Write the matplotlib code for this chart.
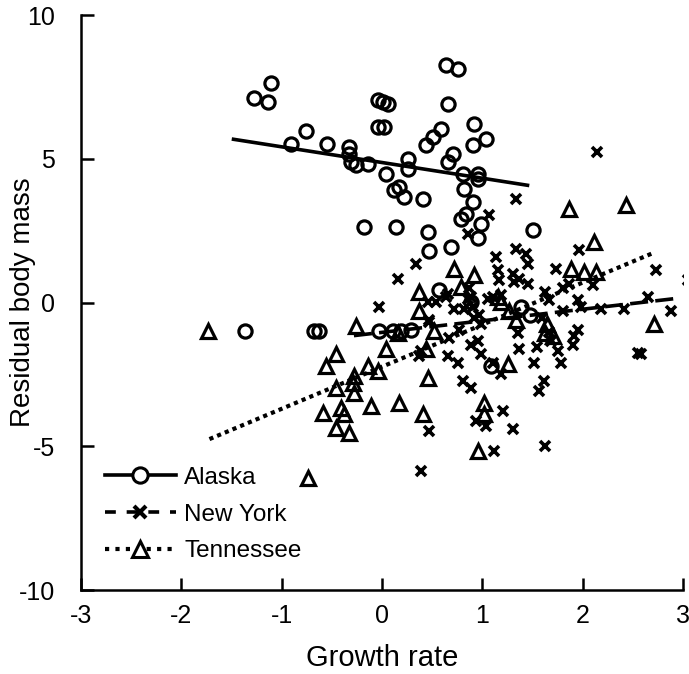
import matplotlib
matplotlib.use("Agg")
import matplotlib.pyplot as plt
from matplotlib.lines import Line2D

plt.rcParams['font.family'] = ['Liberation Sans', 'DejaVu Sans']
plt.rcParams['axes.unicode_minus'] = False

# Alaska (circles)
ak_x = [-1.28, -1.14, -1.11, -0.76, -0.91, -0.55, -0.33, -0.33, -0.31, -0.26, -0.14, -0.18,
        -0.04, 0.01, 0.06, -0.04, 0.02, 0.04, 0.26, 0.26, 0.12, 0.17, 0.22, 0.41,
        0.44, 0.51, 0.59, 0.66, 0.71, 0.92, 0.91, 1.04, 0.66, 0.64, 0.76, 0.81,
        0.96, 0.96, 0.82, 0.91, 0.84, 0.79, 0.99, 0.14, 0.46, 0.47, 0.69, 0.96, 1.50,
        -1.37, -0.68, -0.63, -0.03, 0.11, 0.19, 0.29, 0.57, 1.09, 1.39, 1.47, 0.89]
ak_y = [7.11, 6.97, 7.63, 5.96, 5.51, 5.51, 5.41, 5.16, 4.89, 4.78, 4.82, 2.63,
        7.04, 6.97, 6.90, 6.10, 6.10, 4.47, 4.99, 4.64, 3.92, 4.02, 3.67, 3.60,
        5.48, 5.75, 6.03, 4.89, 5.16, 6.20, 5.48, 5.68, 6.90, 8.25, 8.11, 4.47,
        4.47, 4.30, 3.95, 3.50, 3.08, 2.91, 2.74, 2.63, 2.46, 1.80, 1.94, 2.25, 2.53,
        -1.0, -1.0, -1.0, -1.0, -1.0, -1.0, -0.97, 0.45, -2.22, -0.14, -0.42, 0.03]

# New York (crosses)
ny_x = [2.14, 1.34, 1.07, 0.86, 0.34, 0.16, -0.03, 1.14, 1.34, 1.44, 1.96, 1.46,
        1.73, 1.80, 1.86, 2.10, 2.73, 3.05, 2.65, 2.88, 2.55, 2.58, 2.18, 2.41,
        1.95, 1.98, 1.80, 1.62, 1.66, 1.46, 1.31, 1.32, 1.37, 1.16, 1.17, 1.19,
        1.11, 1.06, 0.87, 0.89, 0.82, 0.91, 0.97, 0.99, 0.64, 0.54, 0.47, 0.39,
        0.37, 0.67, 0.77, 0.66, 0.76, 0.89, 0.96, 0.99, 1.11, 1.19, 1.36, 1.37,
        1.51, 1.54, 1.66, 1.68, 1.78, 1.75, 1.91, 1.95, 1.90, 1.59, 0.81, 0.89,
        0.47, 0.94, 1.04, 1.21, 1.31, 1.56, 1.61, 1.12, 1.62, 0.39, 0.46, 0.47,
        0.66, 0.72, 0.86, 0.92]
ny_y = [5.23, 3.60, 3.05, 2.39, 1.35, 0.83, -0.14, 1.59, 1.87, 1.70, 1.84, 1.35,
        1.18, 0.52, 0.66, 0.62, 1.14, 0.80, 0.21, -0.28, -1.77, -1.80, -0.21, -0.24,
        0.10, -0.14, -0.31, 0.38, 0.10, 0.66, 1.01, 0.73, 0.83, 1.14, 0.80, 0.28,
        0.21, 0.14, 0.49, 0.21, -0.21, -0.14, -0.42, -0.76, 0.21, 0.03, -0.59, -1.70,
        -1.87, -1.25, -0.94, -1.87, -2.11, -1.46, -1.35, -1.80, -2.11, -2.50, -1.07, -1.63,
        -2.11, -1.53, -1.01, -1.35, -2.11, -1.70, -1.18, -0.94, -1.46, -0.55, -2.74, -2.98,
        -4.47, -4.12, -4.30, -3.78, -4.40, -3.08, -2.74, -5.16, -4.99, -5.86, 0.03, -0.66,
        0.31, -0.21, 0.14, -0.55]

# Tennessee (triangles)
tn_x = [-1.73, -0.74, -0.26, -0.46, -0.56, 0.04, -0.14, -0.04, -0.28, -0.29, -0.28, -0.46,
        -0.41, -0.38, -0.46, -0.33, -0.59, -0.11, 0.17, 0.41, 0.37, 0.37, 0.52, 0.44,
        0.72, 0.92, 1.86, 2.43, 2.11, 1.88, 2.01, 2.13, 1.16, 1.19, 0.16, 0.46,
        1.02, 1.02, 0.96, 1.26, 1.62, 1.70, 1.64, 2.71, 0.79, 1.27, 1.34]
tn_y = [-1.0, -6.10, -0.83, -1.80, -2.22, -1.63, -2.22, -2.39, -2.56, -2.81, -3.15, -2.98,
        -3.67, -3.88, -4.37, -4.54, -3.85, -3.60, -3.50, -3.88, 0.38, -0.31, -1.0, -1.63,
        1.18, 0.97, 3.26, 3.40, 2.11, 1.18, 1.07, 1.07, 0.21, 0.03, -1.07, -2.63,
        -3.50, -3.88, -5.16, -2.15, -1.07, -1.18, -0.76, -0.76, 0.55, -0.31, -0.59]

# fitted lines (end points)
ak_fit_x = [-1.48, 1.45]
ak_fit_y = [5.68, 4.08]
ny_fit_x = [-0.28, 2.95]
ny_fit_y = [-1.15, 0.15]
tn_fit_x = [-1.72, 2.72]
tn_fit_y = [-4.75, 1.75]

fig = plt.figure(figsize=(6.89, 6.74), dpi=100)
ax = fig.add_axes([0.1176, 0.1246, 0.8737, 0.853])

ax.plot(ak_x, ak_y, ls='none', marker='o', ms=9.5, mfc='none', mec='black', mew=2.3)
ax.plot(ny_x, ny_y, ls='none', marker='x', ms=7.5, mec='black', mew=2.6)
ax.plot(tn_x, tn_y, ls='none', marker='^', ms=9.5, mfc='none', mec='black', mew=2.3)

ax.plot(ak_fit_x, ak_fit_y, color='black', lw=2.6, ls='-')
ax.plot(ny_fit_x, ny_fit_y, color='black', lw=2.6, ls=(0, (5, 2)))
ax.plot(tn_fit_x, tn_fit_y, color='black', lw=3, ls=(0, (1, 1)))

ax.set_xlim(-3, 3)
ax.set_ylim(-10, 10)
ax.set_xticks([-3, -2, -1, 0, 1, 2, 3])
ax.set_yticks([-10, -5, 0, 5, 10])
ax.spines['top'].set_visible(False)
ax.spines['right'].set_visible(False)
ax.spines['left'].set_linewidth(1.8)
ax.spines['bottom'].set_linewidth(1.8)
ax.tick_params(direction='in', length=9, width=1.8, labelsize=18, pad=10)
ax.tick_params(axis='y', pad=19)
ax.set_xlabel('Growth rate', fontsize=21)
ax.set_ylabel('Residual body mass', fontsize=20)
ax.xaxis.set_label_coords(0.5, -0.118)
ax.xaxis.label.set_va('center')
ax.yaxis.set_label_coords(-0.097, 0.5)
ax.yaxis.label.set_va('center')

handles = [
    Line2D([], [], color='black', lw=2.6, ls='-', marker='o', ms=11, mfc='white', mec='black', mew=2.2),
    Line2D([], [], color='black', lw=2.6, ls=(0, (3, 3)), marker='x', ms=9, mec='black', mew=3),
    Line2D([], [], color='black', lw=3, ls=(0, (1, 1.5)), marker='^', ms=11, mfc='white', mec='black', mew=2.2),
]
ax.legend(handles, ['Alaska', 'New York', 'Tennessee'], loc='upper left',
          bbox_to_anchor=(0.04, 0.214), frameon=False, fontsize=17.5,
          handlelength=2.9, handletextpad=0.35, labelspacing=0.6,
          borderpad=0, borderaxespad=0, numpoints=1)

fig.savefig('out.png', dpi=100)
